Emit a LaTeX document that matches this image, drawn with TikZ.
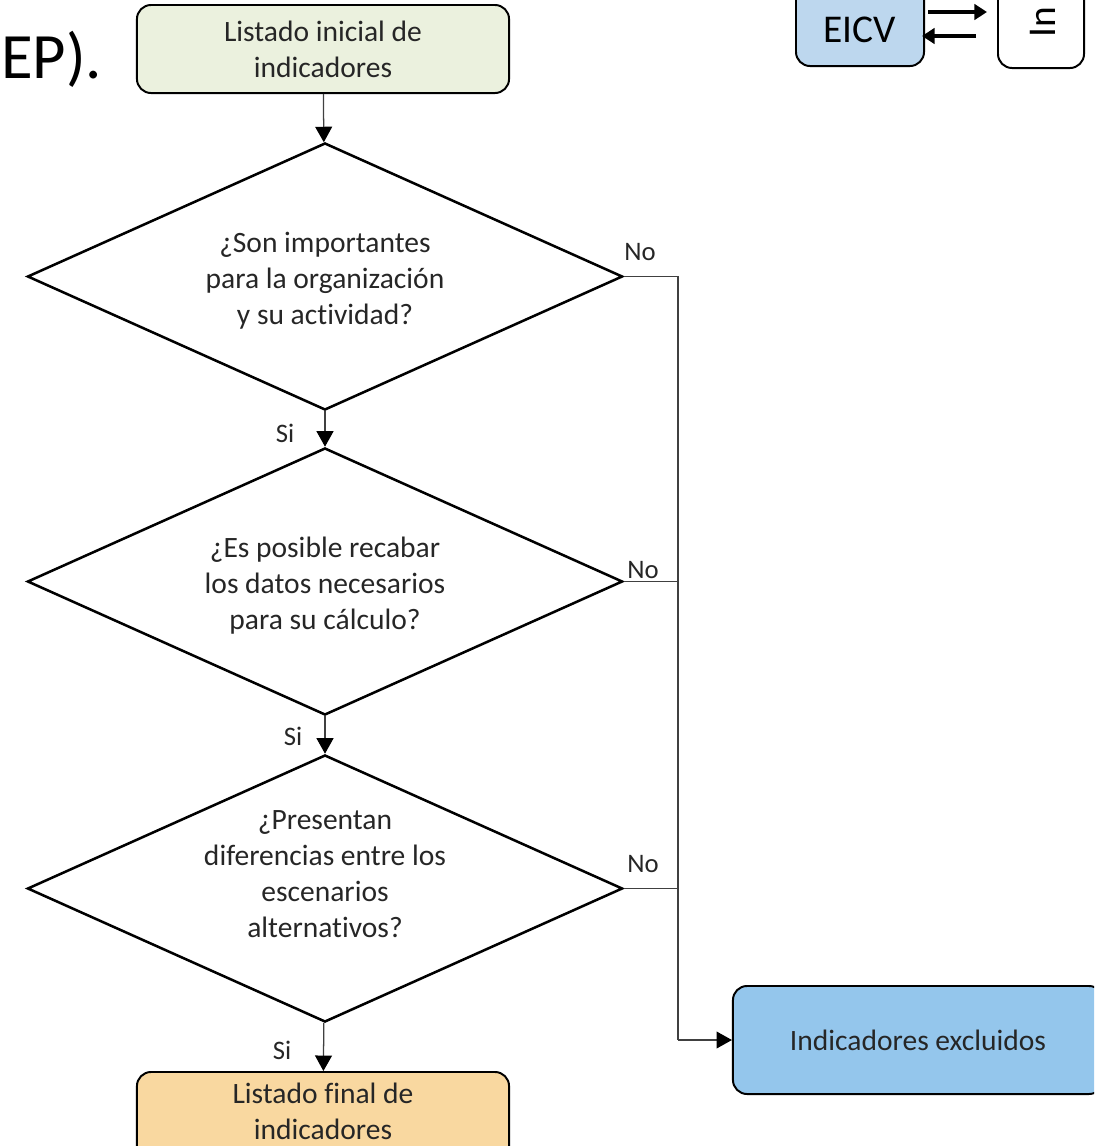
\documentclass[tikz,border=0pt]{standalone}
\usepackage{fontspec}
\setmainfont{Carlito}[Ligatures=NoCommon]
\usetikzlibrary{shapes.geometric,arrows.meta}

\definecolor{verdeclaro}{HTML}{EBF1DE}
\definecolor{naranjaclaro}{HTML}{F9D8A0}
\definecolor{azulexcl}{HTML}{94C6EC}
\definecolor{azuleicv}{HTML}{BDD7EE}
\definecolor{linea}{HTML}{404040}
\definecolor{texto}{HTML}{262626}

\tikzset{
    caja/.style={draw=black, line width=1.4pt, rounded corners=10pt, align=center,
        text=texto, font=\fontsize{21}{25.6}\selectfont, inner sep=0pt},
    pregunta/.style={draw=black, line width=1.8pt, diamond, aspect=2.23, inner sep=0pt,
        minimum width=14.875cm, minimum height=6.675cm},
    textop/.style={align=center, text=texto, font=\fontsize{21}{25.6}\selectfont, inner sep=0pt},
    flecha/.style={draw=linea, line width=0.9pt, -{Triangle[length=11pt,width=12pt,color=black]}},
    rama/.style={draw=linea, line width=0.9pt},
    etiqueta/.style={text=texto, font=\fontsize{19}{23}\selectfont, inner sep=0pt}
}

\begin{document}
\begin{tikzpicture}[x=0.025cm, y=-0.025cm]
        \useasboundingbox (0,0) rectangle (1094,1146);
        \clip (0,0) rectangle (1094,1146);

        % Text cut off at the left
        \node[anchor=base west, inner sep=0pt, font=\fontsize{46}{56}\selectfont] (titulo) at (1,78) {EP).};

        % Boxes cut off at the top right
        \node[caja, fill=azuleicv, minimum width=3.2cm, minimum height=2.65cm] (eicv) at (860,13) {};
        \node[anchor=base, inner sep=0pt, font=\fontsize{28}{34}\selectfont] (eicvtxt) at (860,42) {EICV};
        \node[caja, fill=white, minimum width=2.15cm, minimum height=2.7cm] (otro) at (1041,14) {};
        \node[rotate=90, anchor=west, inner sep=0pt, font=\fontsize{28}{34}\selectfont] (otrotxt) at (1043,38) {In};
        \coordinate (ida0) at (928,12);
        \coordinate (ida1) at (987,12);
        \coordinate (vuelta0) at (976,36);
        \coordinate (vuelta1) at (922,36);
        \draw[line width=3.5pt, -{Triangle[length=9pt,width=11pt]}] (ida0) -- (ida1);
        \draw[line width=3.5pt, -{Triangle[length=9pt,width=11pt]}] (vuelta0) -- (vuelta1);

        % Flowchart
        \node[caja, fill=verdeclaro, minimum width=9.3cm, minimum height=2.2cm] (inicio) at (323,49)
            {Listado inicial de\\indicadores};
        \node[pregunta] (p1) at (325,276.5) {};
        \node[textop] (t1) at (325,280.5) {¿Son importantes\\para la organización\\y su actividad?};
        \node[pregunta] (p2) at (325,581.5) {};
        \node[textop] (t2) at (325,586) {¿Es posible recabar\\los datos necesarios\\para su cálculo?};
        \node[pregunta] (p3) at (325,888.5) {};
        \node[textop] (t3) at (325,874) {¿Presentan\\diferencias entre los\\escenarios\\alternativos?};
        \node[caja, fill=naranjaclaro, minimum width=9.3cm, minimum height=2.2cm] (final) at (323,1116) {};
        \node[textop] (tfinal) at (323,1111) {Listado final de\\indicadores};
        \node[caja, fill=azulexcl, minimum width=9.25cm, minimum height=2.7cm] (excl) at (918,1040)
            {Indicadores excluidos};

        % Si
        \draw[flecha] (inicio) -- (p1);
        \draw[flecha] (p1) -- (p2);
        \draw[flecha] (p2) -- (p3);
        \draw[flecha] (p3) -- (final);
        \node[etiqueta] (si1) at (285,433) {Si};
        \node[etiqueta] (si2) at (293,736) {Si};
        \node[etiqueta] (si3) at (282,1050) {Si};

        % No
        \coordinate (codo) at (678,1040);
        \draw[rama] (p1.east) -| (codo);
        \draw[flecha] (codo) -- (excl.west);
        \draw[rama] (p2.east) -- (p2.east -| codo);
        \draw[rama] (p3.east) -- (p3.east -| codo);
        \node[etiqueta] (no1) at (640,252) {No};
        \node[etiqueta] (no2) at (643,570) {No};
        \node[etiqueta] (no3) at (643,864) {No};
\end{tikzpicture}
\end{document}
